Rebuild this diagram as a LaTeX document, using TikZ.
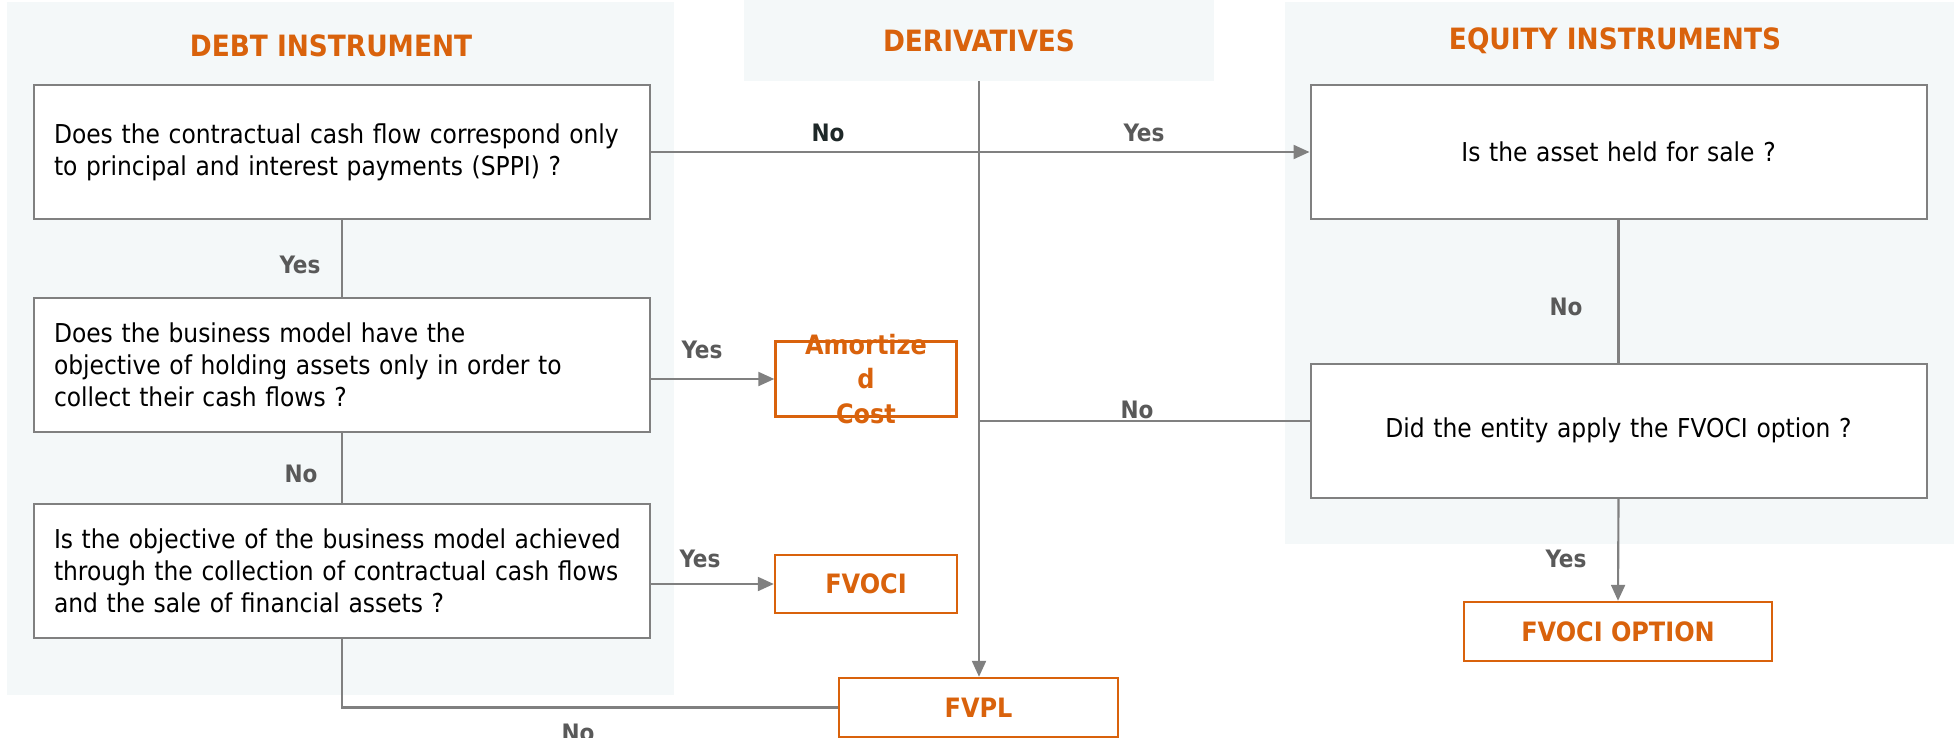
\documentclass[tikz,border=0pt]{standalone}
\usepackage{fontspec}
\IfFontExistsTF{DejaVu Sans Condensed}{\setmainfont{DejaVu Sans Condensed}}{\setmainfont{DejaVu Sans}}
\usetikzlibrary{arrows.meta}

\definecolor{orangeT}{RGB}{217,98,12}
\definecolor{panelBg}{RGB}{244,248,249}
\definecolor{lineG}{RGB}{128,128,128}
\definecolor{labelG}{RGB}{89,89,89}
\definecolor{labelD}{RGB}{30,40,40}

\tikzset{every picture/.style={line width=0.75pt}}
\tikzset{
	question/.style={draw=lineG, line width=1.5pt, fill=white, minimum width=462pt, minimum height=100.5pt, inner xsep=15pt, text width=432pt, align=left, font=\fontsize{19.5}{24}\selectfont},
	questionC/.style={question, align=center},
	result/.style={draw=orangeT, line width=1.8pt, fill=white, text=orangeT, inner sep=0pt, font=\fontsize{20}{26}\selectfont\bfseries},
	title/.style={text=orangeT, font=\fontsize{22}{26}\selectfont\bfseries},
	answer/.style={text=labelG, font=\fontsize{18}{22}\selectfont\bfseries},
	link/.style={draw=lineG, line width=1.6pt},
	arrowlink/.style={link, -{Triangle[length=12pt,width=10.5pt]}}}

\begin{document}
\begin{tikzpicture}[x=0.75pt,y=0.75pt,yscale=-1,xscale=1]
		\useasboundingbox (0,0) rectangle (1954,738);

		% Panels
		\fill [panelBg] (7,2) rectangle (674,695);
		\fill [panelBg] (1285,2) rectangle (1954,544);
		\node [title, fill=panelBg, minimum width=352.5pt, minimum height=60.75pt, inner sep=0pt] (derivT) at (979,40.5) {DERIVATIVES};
		\node [title] (debtT) at (331,46) {DEBT INSTRUMENT};
		\node [title] (eqT) at (1615,41) {EQUITY INSTRUMENTS};

		% Debt instrument questions
		\node [question] (sppi) at (342,152) {Does the contractual cash flow correspond only\\to principal and interest payments (SPPI) ?};
		\node [question] (hold) at (342,365) {Does the business model have the\\objective of holding assets only in order to\\collect their cash flows ?};
		\node [question] (sale) at (342,571) {Is the objective of the business model achieved\\through the collection of contractual cash flows\\and the sale of financial assets ?};

		% Equity instrument questions
		\node [questionC] (held) at (1618.5,152) {Is the asset held for sale ?};
		\node [questionC] (option) at (1618.5,430.5) {Did the entity apply the FVOCI option ?};

		% Results
		\node [result, minimum width=135.75pt, minimum height=56.25pt] (amort) at (866,379) {};
		\node [text=orangeT, align=center, font=\fontsize{20}{26}\selectfont\bfseries] (amortT) at (amort.center) {Amortize\\d\\Cost};
		\node [result, minimum width=136.5pt, minimum height=43.5pt] (fvoci) at (866,584) {FVOCI};
		\node [result, minimum width=209.25pt, minimum height=44.25pt] (fvpl) at (978.5,707.5) {FVPL};
		\node [result, minimum width=231pt, minimum height=44.25pt] (fvociopt) at (1618,631.5) {FVOCI OPTION};

		% Connectors
		\draw [arrowlink] (sppi.east) -- (held.west);
		\draw [link] (sppi.south) -- (hold.north);
		\draw [link] (hold.south) -- (sale.north);
		\draw [link] (sale.south) -- (sale.south |- fvpl.west) -- (fvpl.west);
		\draw [arrowlink] (hold.east |- amort.west) -- (amort.west);
		\draw [arrowlink] (sale.east |- fvoci.west) -- (fvoci.west);
		\draw [arrowlink] (derivT.south) -- (derivT.south |- fvpl.north);
		\draw [link] ([yshift=-7pt]option.west) -- ([yshift=-7pt]option.west -| derivT.south);
		\draw [link] (held.south) -- (option.north);
		\draw [arrowlink] (option.south) -- (fvociopt.north);

		% Text Node
		\node [answer, text=labelD] (noA) at (828,133) {No};
		\node [answer] (yesA) at (1144,133) {Yes};
		\node [answer] (yesB) at (300,265) {Yes};
		\node [answer] (noB) at (301,474) {No};
		\node [answer] (yesC) at (702,350) {Yes};
		\node [answer] (yesD) at (700,559) {Yes};
		\node [answer] (noC) at (578,733) {No};
		\node [answer] (noD) at (1137,410) {No};
		\node [answer] (noE) at (1566,307) {No};
		\node [answer] (yesE) at (1566,559) {Yes};

\end{tikzpicture}
\end{document}
